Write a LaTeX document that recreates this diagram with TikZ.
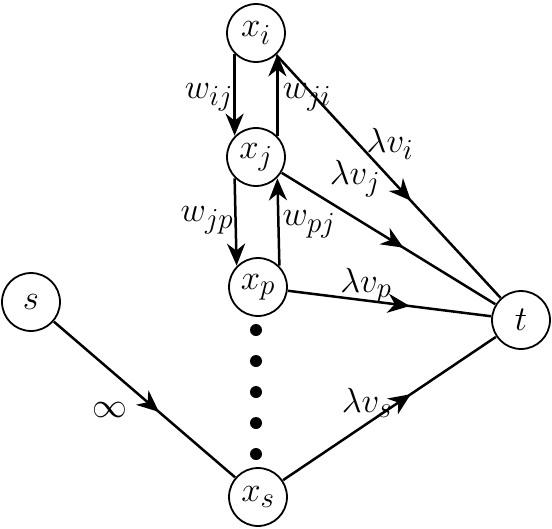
\documentclass[tikz,border=0pt]{standalone}
\usepackage{amsmath,amssymb}
\usepackage{tikz}
\usetikzlibrary{arrows.meta,decorations.markings}

\begin{document}
\begin{tikzpicture}[x=1pt,y=-1pt,
    font=\fontsize{24.88}{30}\selectfont,
    vtx/.style={circle,draw,line width=1.8pt,minimum size=41.4pt,inner sep=0pt,scale=1.4},
    lab/.style={scale=1.4},
    lnk/.style={line width=2.5pt},
    tip/.style={-{Stealth[length=22pt,width=18pt,inset=7pt]}},
    midarrow/.style={decoration={markings,
        mark=at position #1 with {\arrow{Stealth[length=22pt,width=19pt,inset=7pt]}}},
        postaction={decorate}}]
    \useasboundingbox (0,0) rectangle (552,528);
    % vertices
    \node[vtx] (xi) at (256,33) {$x_i$};
    \node[vtx] (xj) at (256,157) {$x_j$};
    \node[vtx] (xp) at (258,287) {$x_p$};
    \node[vtx] (xs) at (258,497) {$x_s$};
    \node[vtx] (s) at (31,302) {$s$};
    \node[vtx] (t) at (521,320) {$t$};
    % dots between x_p and x_s
    \foreach \y in {330,361,392,423,454} {
      \fill (256,\y) circle(6pt);
    }
    % vertical pairs
    \draw[lnk,tip] (xi.-135) -- (xj.135);
    \draw[lnk,tip] (xj.45) -- (xi.-45);
    \draw[lnk,tip] (xj.-135) -- (xp.135);
    \draw[lnk,tip] (xp.45) -- (xj.-45);
    % edges to the sink and from the source
    \draw[lnk,midarrow=0.6] (xi) -- (t);
    \draw[lnk,midarrow=0.57] (xj) -- (t);
    \draw[lnk,midarrow=0.6] (xp) -- (t);
    \draw[lnk,midarrow=0.6] (xs) -- (t);
    \draw[lnk,midarrow=0.58] (s) -- (xs);
    % labels
    \node[lab] (wij) at (209,97) {$w_{ij}$};
    \node[lab] (wji) at (307,97) {$w_{ji}$};
    \node[lab] (wjp) at (207,220) {$w_{jp}$};
    \node[lab] (wpj) at (309,224) {$w_{pj}$};
    \node[lab] (lvi) at (390,144) {$\lambda v_i$};
    \node[lab] (lvj) at (355,179) {$\lambda v_j$};
    \node[lab] (lvp) at (366,286) {$\lambda v_p$};
    \node[lab] (lvs) at (367,403) {$\lambda v_s$};
    \node[lab] (inf) at (110,410) {$\infty$};
  \end{tikzpicture}
\end{document}
